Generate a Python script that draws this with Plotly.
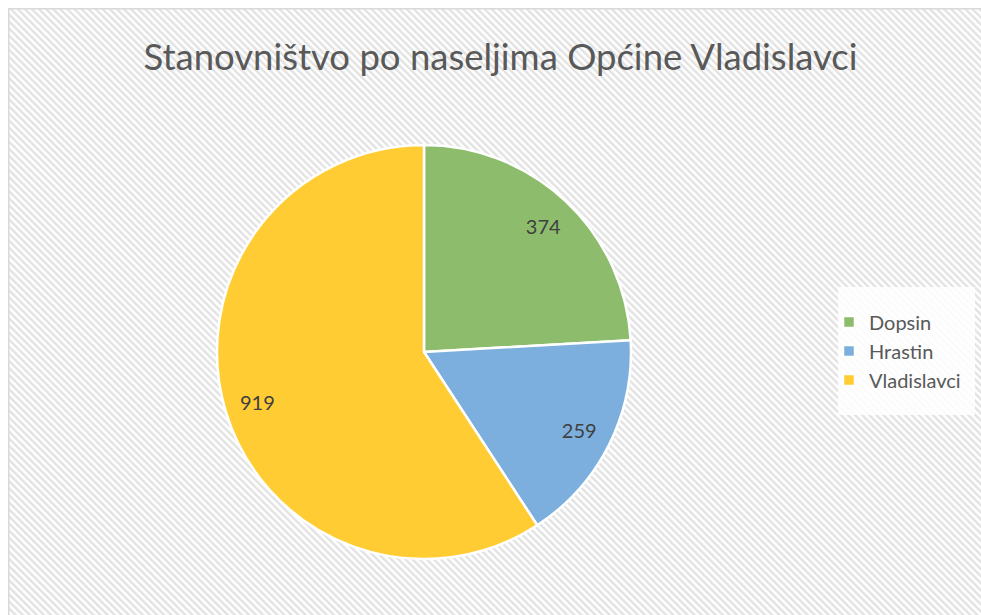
import base64
import plotly.graph_objects as go

# ---- data ----
labels = ["Dopsin", "Hrastin", "Vladislavci"]
values = [374, 259, 919]
title_text = "Stanovništvo po naseljima Općine Vladislavci"

# ---- styling ----
W, H = 981, 615
colors = ["#8DBD6C", "#7CAFDD", "#FFCD33"]
cx, cy, R = 424, 352, 207  # pie centre / radius in pixels
font_family = "Lato, Open Sans, sans-serif"


def px_x(x):
    return x / W


def px_y(y):
    return 1 - y / H


hatch_svg = (
    f'<svg xmlns="http://www.w3.org/2000/svg" width="{W}" height="{H}">'
    '<defs><pattern id="p" width="5" height="5" patternUnits="userSpaceOnUse" '
    'patternTransform="rotate(-45)">'
    '<rect width="5" height="5" fill="#ffffff"/>'
    '<rect width="2.4" height="5" fill="#e2e2e2"/></pattern></defs>'
    f'<rect x="0" y="0" width="{W}" height="{H}" fill="#ffffff"/>'
    f'<rect x="8.75" y="8.75" width="{W + 10}" height="{H + 10}" fill="url(#p)" '
    'stroke="#d9d9d9" stroke-width="1.5"/>'
    '</svg>'
)
hatch_uri = "data:image/svg+xml;base64," + base64.b64encode(hatch_svg.encode()).decode()

dom_x = [px_x(cx - R), px_x(cx + R)]
dom_y = [px_y(cy + R), px_y(cy - R)]

fig = go.Figure()
fig.add_trace(go.Pie(
    labels=labels, values=values, sort=False, direction="clockwise", rotation=0,
    marker=dict(colors=colors, line=dict(color="#ffffff", width=2.5)),
    textinfo="none", hoverinfo="label+value", domain=dict(x=dom_x, y=dom_y),
    showlegend=True,
))
# transparent ring carrying the data labels near the rim (as in Excel)
fig.add_trace(go.Pie(
    labels=labels, values=values, sort=False, direction="clockwise", rotation=0,
    hole=0.68,
    marker=dict(colors=["rgba(0,0,0,0)"] * 3, line=dict(width=0)),
    textinfo="value", textposition="inside", insidetextorientation="horizontal",
    textfont=dict(family=font_family, size=20, color="#404040"),
    hoverinfo="skip", domain=dict(x=dom_x, y=dom_y), showlegend=False,
))

fig.update_layout(
    width=W, height=H, autosize=False,
    margin=dict(l=0, r=0, t=0, b=0),
    paper_bgcolor="#ffffff", plot_bgcolor="rgba(0,0,0,0)",
    images=[dict(source=hatch_uri, xref="paper", yref="paper", x=0, y=1,
                 sizex=1, sizey=1, sizing="stretch", xanchor="left", yanchor="top",
                 layer="below")],
    title=dict(text=title_text, x=px_x(500.5), xanchor="center", y=px_y(57), yanchor="middle",
               font=dict(family=font_family, size=36.5, color="#595959")),
    shapes=[dict(type="rect", xref="paper", yref="paper",
                 x0=px_x(838), x1=px_x(975), y0=px_y(415), y1=px_y(287),
                 fillcolor="rgba(255,255,255,0.85)", line=dict(width=0), layer="below")],
    legend=dict(x=px_x(829), xanchor="left", y=px_y(351), yanchor="middle",
                bgcolor="rgba(0,0,0,0)", itemwidth=30,
                font=dict(family=font_family, size=20, color="#595959")),
)

fig.write_html("out.html", config={"displayModeBar": False},
               post_script="document.body.style.margin='0';document.body.style.overflow='hidden';")
